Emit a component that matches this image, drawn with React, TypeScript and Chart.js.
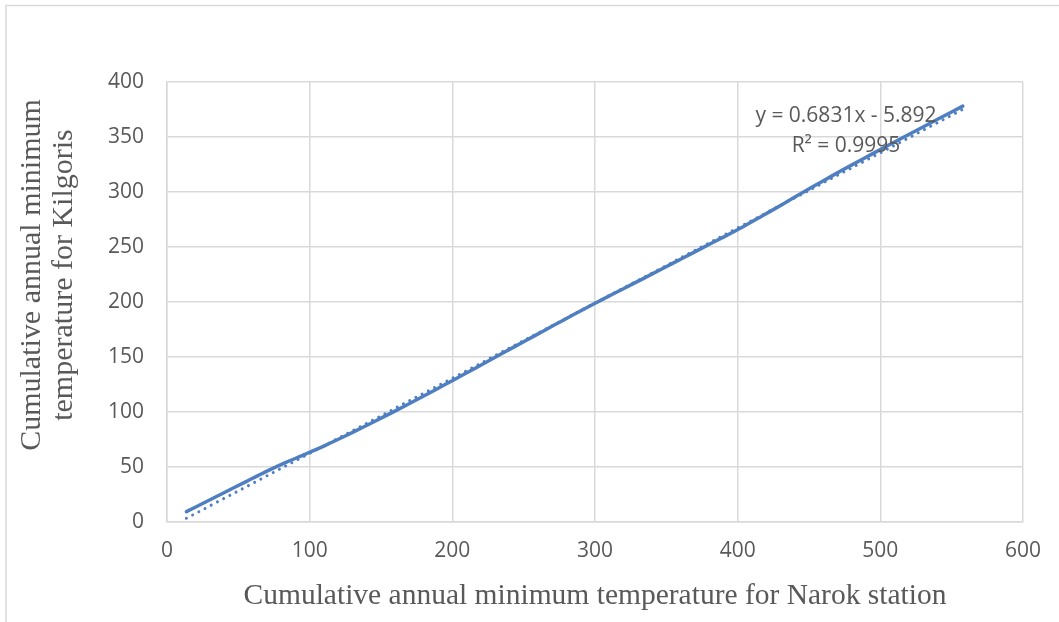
import React, { useEffect, useRef } from "react";
import { Chart, registerables } from "chart.js";

Chart.register(...registerables);

// Cumulative annual minimum temperature (°C, summed year by year)
const narokCumulative = [
  13.6, 27.4, 41.3, 55.1, 69.0, 83.0, 97.1, 111.0, 124.9, 138.8,
  152.8, 166.7, 180.6, 194.6, 208.5, 222.4, 236.4, 250.3, 264.2, 278.1,
  292.1, 306.0, 319.9, 333.8, 347.8, 361.7, 375.6, 389.6, 403.5, 417.4,
  431.3, 445.3, 459.2, 473.1, 487.1, 501.0, 514.9, 528.9, 542.8, 557.8,
];
const kilgorisCumulative = [
  9.4, 18.4, 27.5, 36.5, 45.6, 54.0, 61.8, 69.7, 78.2, 87.0,
  96.2, 105.5, 115.0, 124.7, 134.5, 144.3, 154.3, 164.1, 173.9, 183.7,
  193.4, 202.8, 212.1, 221.3, 230.7, 240.0, 249.4, 258.7, 268.2, 278.4,
  288.7, 299.3, 309.6, 319.7, 329.6, 339.3, 348.9, 358.4, 367.9, 378.1,
];

// Linear trendline reported on the chart
const trendSlope = 0.6831;
const trendIntercept = -5.892;
const trendRSquared = 0.9995;

const xTicks = [0, 100, 200, 300, 400, 500, 600];
const yTicks = [0, 50, 100, 150, 200, 250, 300, 350, 400];

const xTitle = "Cumulative annual minimum temperature for Narok station";
const yTitleLines = ["Cumulative annual minimum", "temperature for Kilgoris"];

const SERIES_BLUE = "#4f7fc0";
const GRID_GREY = "#d9d9d9";
const TEXT_GREY = "#595959";
const TICK_FONT = "'Open Sans', 'Liberation Sans', sans-serif";
const TITLE_FONT = "'Liberation Serif', 'DejaVu Serif', serif";

const fmtSigned = (v: number) =>
  v < 0 ? ` - ${Math.abs(v).toString()}` : ` + ${v.toString()}`;

const decorPlugin = {
  id: "decor",
  beforeDraw(chart: any) {
    const { ctx } = chart;
    ctx.save();
    // outer frame of the chart object (top and left edges)
    ctx.strokeStyle = GRID_GREY;
    ctx.lineWidth = 1.5;
    ctx.beginPath();
    ctx.moveTo(6, chart.height + 2);
    ctx.lineTo(6, 5.5);
    ctx.lineTo(chart.width + 2, 5.5);
    ctx.stroke();
    ctx.restore();
  },
  afterDraw(chart: any) {
    const { ctx, chartArea } = chart;
    ctx.save();
    ctx.fillStyle = TEXT_GREY;

    // x axis title
    ctx.font = `29.5px ${TITLE_FONT}`;
    ctx.textAlign = "center";
    ctx.textBaseline = "alphabetic";
    ctx.fillText(xTitle, (chartArea.left + chartArea.right) / 2, 604);

    // y axis title, two rotated lines
    ctx.font = `30px ${TITLE_FONT}`;
    ctx.save();
    ctx.translate(0, 275);
    ctx.rotate(-Math.PI / 2);
    ctx.fillText(yTitleLines[0], 0, 40);
    ctx.fillText(yTitleLines[1], 0, 72);
    ctx.restore();

    // trendline equation label
    ctx.font = `21px ${TICK_FONT}`;
    ctx.textBaseline = "middle";
    const lx = 846;
    ctx.fillText(`y = ${trendSlope}x${fmtSigned(trendIntercept)}`, lx, 116);
    ctx.fillText(`R² = ${trendRSquared}`, lx, 146);
    ctx.restore();
  },
};

export default function App() {
  const canvasRef = useRef<HTMLCanvasElement | null>(null);

  useEffect(() => {
    document.body.style.margin = "0";
    const canvas = canvasRef.current;
    if (!canvas) return;

    const series = narokCumulative.map((x, i) => ({ x, y: kilgorisCumulative[i] }));
    const x0 = narokCumulative[0];
    const x1 = narokCumulative[narokCumulative.length - 1];
    const trend = [
      { x: x0, y: trendSlope * x0 + trendIntercept },
      { x: x1, y: trendSlope * x1 + trendIntercept },
    ];

    const chart = new Chart(canvas, {
      type: "line",
      data: {
        datasets: [
          {
            data: trend,
            borderColor: SERIES_BLUE,
            borderWidth: 3,
            borderDash: [0.01, 7],
            borderCapStyle: "round",
            pointRadius: 0,
            fill: false,
          },
          {
            data: series,
            borderColor: SERIES_BLUE,
            borderWidth: 3.5,
            borderCapStyle: "round",
            tension: 0.3,
            pointRadius: 0,
            fill: false,
          },
        ],
      },
      options: {
        responsive: false,
        animation: false,
        devicePixelRatio: 1,
        layout: { padding: { top: 82, right: 36, left: 0, bottom: 0 } },
        plugins: {
          legend: { display: false },
          tooltip: { enabled: false },
          title: { display: false },
        },
        scales: {
          x: {
            type: "linear",
            min: xTicks[0],
            max: xTicks[xTicks.length - 1],
            afterBuildTicks: (scale: any) => {
              scale.ticks = xTicks.map((v) => ({ value: v }));
            },
            afterFit: (scale: any) => {
              scale.height = 100;
            },
            grid: { color: GRID_GREY, lineWidth: 1.5, drawTicks: false },
            border: { color: GRID_GREY, width: 1.5 },
            ticks: {
              color: TEXT_GREY,
              font: { family: TICK_FONT, size: 21 },
              padding: 16,
              maxRotation: 0,
            },
          },
          y: {
            type: "linear",
            min: yTicks[0],
            max: yTicks[yTicks.length - 1],
            afterBuildTicks: (scale: any) => {
              scale.ticks = yTicks.map((v) => ({ value: v }));
            },
            afterFit: (scale: any) => {
              scale.width = 167;
            },
            grid: { color: GRID_GREY, lineWidth: 1.5, drawTicks: false },
            border: { color: GRID_GREY, width: 1.5 },
            ticks: {
              color: TEXT_GREY,
              font: { family: TICK_FONT, size: 21 },
              padding: 23,
            },
          },
        },
      },
      plugins: [decorPlugin],
    } as any);

    return () => chart.destroy();
  }, []);

  return (
    <div style={{ width: 1059, height: 622, position: "relative" }}>
      <canvas ref={canvasRef} width={1059} height={622} style={{ display: "block" }} />
    </div>
  );
}
